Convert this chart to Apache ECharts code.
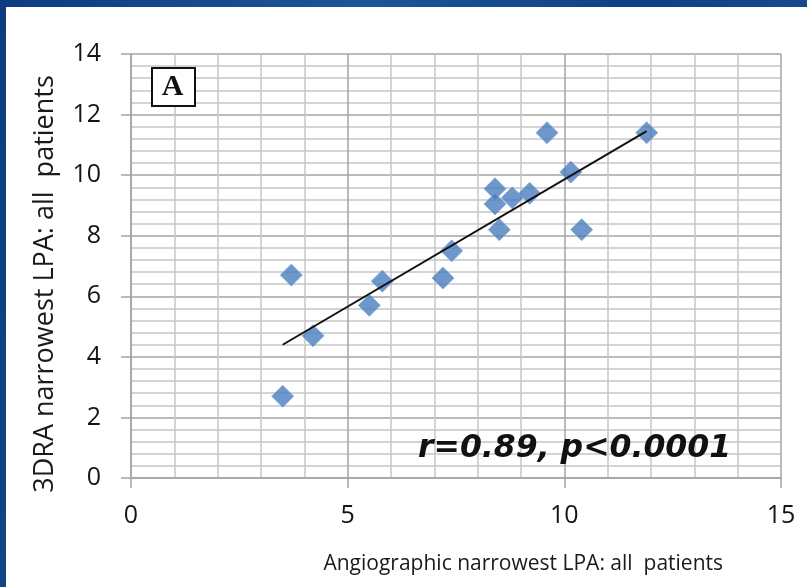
<!DOCTYPE html>
<html>
<head>
<meta charset="utf-8">
<script src="https://cdn.jsdelivr.net/npm/echarts@6/dist/echarts.min.js"></script>
<style>
  html, body { margin: 0; padding: 0; width: 807px; height: 587px; overflow: hidden;
    background: linear-gradient(100deg, #0d3c80 0%, #1f5499 40%, #0f4184 70%, #1a4d92 100%); }
  #frame { position: absolute; left: 6px; top: 7px; width: 801px; height: 580px; background: #ffffff; }
  #chart { width: 801px; height: 580px; }
</style>
</head>
<body>
<div id="frame"><div id="chart"></div></div>
<script>
// ---- data ----
const xAngio = [3.5, 3.7, 4.2, 5.5, 5.8, 7.2, 7.4, 8.4, 8.4, 8.5, 8.8, 9.2, 9.6, 10.15, 10.4, 11.9];
const y3dra  = [2.7, 6.7, 4.7, 5.7, 6.5, 6.6, 7.5, 9.55, 9.05, 8.2, 9.25, 9.4, 11.4, 10.1, 8.2, 11.4];
const trendX = [3.5, 11.9];
const trendY = [4.4, 11.45];
const xTicks = [0, 5, 10, 15];
const yTicks = [0, 2, 4, 6, 8, 10, 12, 14];
const xName = 'Angiographic narrowest LPA: all  patients';
const yName = '3DRA narrowest LPA: all  patients';
const statText = 'r=0.89, p<0.0001';
const panelLabel = 'A';

const points = xAngio.map((x, i) => [x, y3dra[i]]);
const trend = trendX.map((x, i) => [x, trendY[i]]);

const chart = echarts.init(document.getElementById('chart'), null, { renderer: 'canvas' });

const majorLine = { show: true, lineStyle: { color: '#a4a4a4', width: 1.5 } };
const minorLine = { show: true, lineStyle: { color: '#c6c6c6', width: 1.5 } };
const tickFont = { fontFamily: 'Open Sans', fontSize: 25, color: '#141414' };

const option = {
  animation: false,
  grid: { left: 125, top: 47, right: 26, bottom: 109, containLabel: false },
  xAxis: {
    type: 'value',
    min: xTicks[0], max: xTicks[xTicks.length - 1], interval: xTicks[1] - xTicks[0],
    axisLine: { show: true, lineStyle: { color: '#a4a4a4', width: 1.5 } },
    axisTick: { show: true, length: 10, lineStyle: { color: '#a4a4a4', width: 1.5 } },
    axisLabel: Object.assign({ margin: 25 }, tickFont),
    splitLine: majorLine,
    minorTick: { show: false, splitNumber: 5 },
    minorSplitLine: minorLine
  },
  yAxis: {
    type: 'value',
    min: yTicks[0], max: yTicks[yTicks.length - 1], interval: yTicks[1] - yTicks[0],
    axisLine: { show: true, lineStyle: { color: '#a4a4a4', width: 1.5 } },
    axisTick: { show: true, length: 10, lineStyle: { color: '#a4a4a4', width: 1.5 } },
    axisLabel: Object.assign({ margin: 30 }, tickFont),
    splitLine: majorLine,
    minorTick: { show: false, splitNumber: 5 },
    minorSplitLine: minorLine
  },
  series: [
    {
      type: 'scatter',
      data: points,
      symbol: 'diamond',
      symbolSize: 22,
      itemStyle: { color: '#4a7dbf', borderColor: '#7ea6d6', borderWidth: 1 },
      z: 3
    },
    {
      type: 'line',
      data: trend,
      symbol: 'none',
      lineStyle: { color: '#111111', width: 2 },
      z: 4
    }
  ],
  graphic: [
    {
      type: 'rect', left: 145, top: 60, z: 10,
      shape: { width: 43, height: 38 },
      style: { fill: '#ffffff', stroke: '#111111', lineWidth: 2 }
    },
    {
      type: 'text', z: 11,
      x: 166.5, y: 80,
      style: { text: panelLabel, fontFamily: 'Liberation Serif', fontWeight: 'bold', fontSize: 30,
        fill: '#111111', align: 'center', verticalAlign: 'middle' }
    },
    {
      type: 'text', z: 11,
      x: 412, y: 442,
      style: { text: statText, fontFamily: 'DejaVu Sans', fontWeight: 'bold', fontStyle: 'italic',
        fontSize: 31.5, fill: '#111111', align: 'left', verticalAlign: 'middle' }
    },
    {
      type: 'text', z: 11,
      x: 717, y: 557,
      style: { text: xName, fontFamily: 'Open Sans', fontSize: 21, fill: '#1a1a1a',
        align: 'right', verticalAlign: 'middle' }
    },
    {
      type: 'text', z: 11,
      x: 39, y: 277, rotation: Math.PI / 2,
      style: { text: yName, fontFamily: 'Open Sans', fontSize: 27, fill: '#1a1a1a',
        align: 'center', verticalAlign: 'middle' }
    }
  ]
};
chart.setOption(option);
</script>
</body>
</html>
